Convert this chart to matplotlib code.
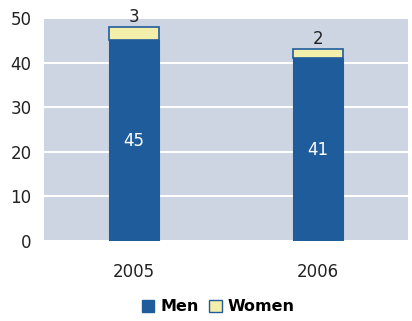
import numpy as np
import matplotlib.pyplot as plt
from matplotlib.patches import Patch

plt.rcParams['font.family'] = ['DejaVu Sans']

years = ['2005', '2006']
men = [45, 41]
women = [3, 2]

men_color = '#1f5c9c'
women_color = '#f3eeaa'
bg_color = '#cdd5e2'

fig = plt.figure(figsize=(4.12, 3.21), dpi=100)
ax = fig.add_axes([0.107, 0.249, 0.883, 0.695])
ax.set_facecolor(bg_color)

x = np.arange(len(years))
w = 0.27
ax.bar(x, men, w, color=men_color, edgecolor=men_color, linewidth=0.8, zorder=3)
ax.bar(x, women, w, bottom=men, color=women_color, edgecolor=men_color,
       linewidth=1.2, zorder=3)

for xi, m, f in zip(x, men, women):
    ax.text(xi, m / 2, str(m), color='white', ha='center', va='center',
            fontsize=12, zorder=4)
    ax.text(xi, m + f + 0.2, str(f), color='#222222', ha='center', va='bottom',
            fontsize=12, zorder=4)

ax.set_ylim(0, 50)
ax.set_xlim(-0.49, 1.49)
ax.set_yticks([0, 10, 20, 30, 40, 50])
ax.set_xticks(x)
ax.set_xticklabels(years)
ax.yaxis.grid(True, color='white', linewidth=1.5, zorder=1)
ax.set_axisbelow(True)
ax.tick_params(length=0, labelsize=12, labelcolor='#222222')
ax.tick_params(axis='y', pad=9)
ax.tick_params(axis='x', pad=16)
for s in ax.spines.values():
    s.set_visible(False)

handles = [Patch(facecolor=men_color, edgecolor=men_color, label='Men'),
           Patch(facecolor=women_color, edgecolor=men_color, label='Women')]
fig.legend(handles=handles, loc='center', bbox_to_anchor=(0.53, 0.044), ncol=2,
           frameon=False, handlelength=0.8, handleheight=0.8, handletextpad=0.4,
           columnspacing=0.6, prop={'weight': 'bold', 'size': 11.5})

fig.savefig('out.png', dpi=100)
